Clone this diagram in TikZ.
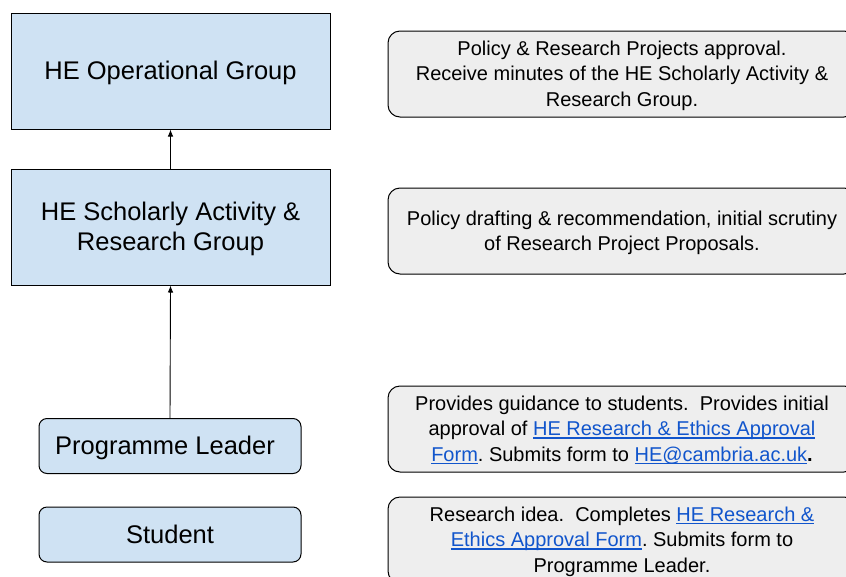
\documentclass[tikz,border=0pt]{standalone}
\usepackage{fontspec}
\setmainfont{Liberation Sans}
\usetikzlibrary{arrows.meta}
\frenchspacing
\definecolor{boxblue}{HTML}{CFE2F3}
\definecolor{boxgray}{HTML}{EEEEEE}
\definecolor{linkblue}{HTML}{1155CC}
\newcommand{\lnk}[1]{{\color{linkblue}\setbox0\hbox{#1}\rlap{\rule[-2.6pt]{\wd0}{1.1pt}}\box0}}
\newcommand{\gs}{\rule[-0.212em]{0pt}{1.117em}}
\tikzset{
  grp/.style={draw=black, line width=1pt, fill=boxblue, inner sep=0pt,
    minimum width=319pt, minimum height=116pt, align=center,
    font=\fontsize{25.5}{30}\selectfont},
  role/.style={draw=black, line width=1pt, fill=boxblue, inner sep=0pt,
    rounded corners=8pt, minimum width=262pt, minimum height=55pt, align=center,
    font=\fontsize{25.5}{30}\selectfont},
  desc/.style={draw=black, line width=1pt, fill=boxgray, inner sep=0pt,
    rounded corners=12pt, minimum width=468pt, minimum height=86pt, align=center,
    font=\fontsize{20}{25.5}\selectfont},
  arr/.style={draw=black, line width=0.9pt, -{Latex[length=7pt,width=5.5pt]}}
}
\begin{document}
\begin{tikzpicture}[x=1pt,y=-1pt]
\useasboundingbox[fill=white] (0,0) rectangle (846,576);
\node[grp] (op) at (170.5,71) {\gs HE Operational Group};
\node[grp] (sch) at (170.5,227) {\gs HE Scholarly Activity \&\\\gs Research Group};
\node[role] (pl) at (170,446) {\gs Programme Leader\hspace{10pt}};
\node[role] (st) at (170,534.5) {\gs Student};
\draw[arr] (sch.north) -- (op.south);
\draw[arr] (pl.north) -- (sch.south);
\node[desc] (d1) at (622,74) {\gs Policy \& Research Projects approval.\\\gs Receive minutes of the HE Scholarly Activity \&\\\gs Research Group.};
\node[desc] (d2) at (622,231) {\gs Policy drafting \& recommendation, initial scrutiny\\\gs of Research Project Proposals.};
\node[desc] (d3) at (622,429) {\gs Provides guidance to students.\ \ Provides initial\\\gs approval of \lnk{HE Research \& Ethics Approval}\\\gs\lnk{Form}. Submits form to \lnk{HE@cambria.ac.uk}\textbf{.}};
\node[desc] (d4) at (622,540) {\gs Research idea.\ \ Completes \lnk{HE Research \&}\\\gs\lnk{Ethics Approval Form}. Submits form to\\\gs Programme Leader.};
\end{tikzpicture}
\end{document}
